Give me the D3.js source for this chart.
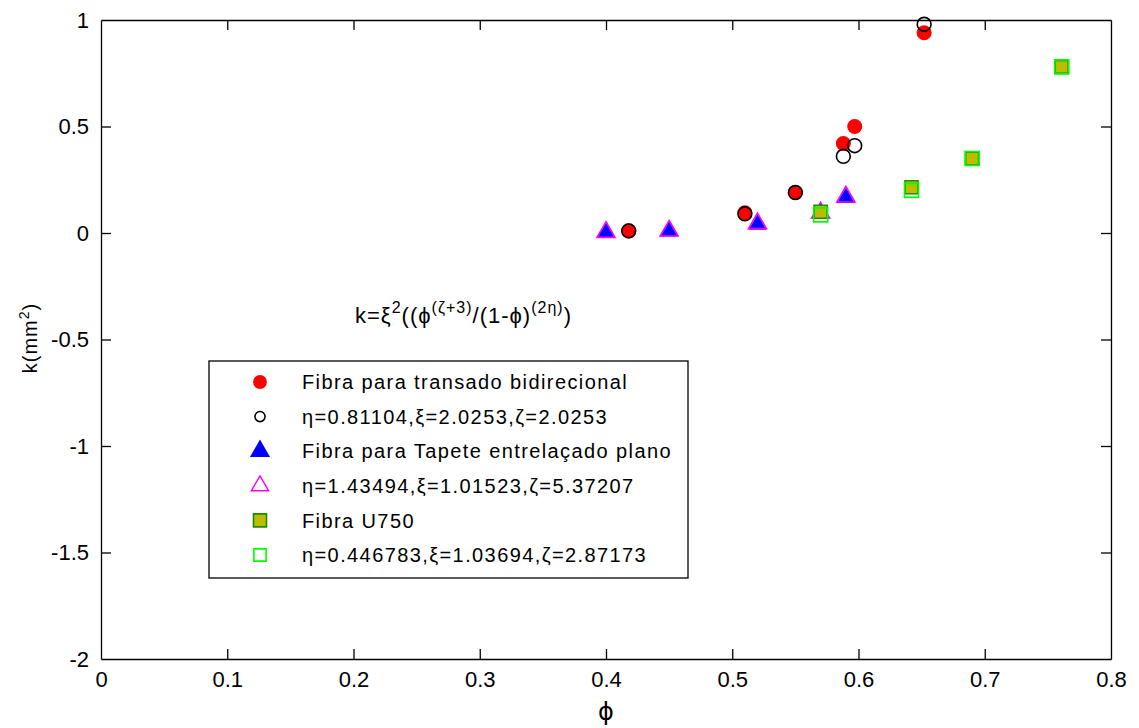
<!DOCTYPE html>
<html>
<head>
<meta charset="utf-8">
<script src="https://cdn.jsdelivr.net/npm/d3@7"></script>
<style>
  body { margin: 0; background: #fff; }
  .chart text { font-family: "Liberation Sans", Arial, sans-serif; fill: #000; }
  .axis path, .axis line { stroke: #000; stroke-width: 1.3; }
  .axis text { font-size: 22px; }
</style>
</head>
<body>
<div class="chart"></div>
<script>
// values
var phiTransado = [0.418, 0.51, 0.55, 0.588, 0.597, 0.652];
var kTransado = [0.01, 0.095, 0.19, 0.42, 0.50, 0.94];
var kTransadoFit = [0.01, 0.09, 0.19, 0.36, 0.41, 0.98];

var phiTapete = [0.40, 0.45, 0.52, 0.57, 0.59];
var kTapete = [0.004, 0.008, 0.04, 0.09, 0.165];
var kTapeteFit = [0.004, 0.01, 0.045, 0.095, 0.17];

var phiU750 = [0.57, 0.642, 0.69, 0.761];
var kU750 = [0.10, 0.215, 0.35, 0.78];
var kU750Fit = [0.085, 0.20, 0.35, 0.78];

var xTicks = [0, 0.1, 0.2, 0.3, 0.4, 0.5, 0.6, 0.7, 0.8];
var yTicks = [-2, -1.5, -1, -0.5, 0, 0.5, 1];

var legendLabels = [
    "Fibra para transado bidirecional",
    "\u03b7=0.81104,\u03be=2.0253,\u03b6=2.0253",
    "Fibra para Tapete entrela\u00e7ado plano",
    "\u03b7=1.43494,\u03be=1.01523,\u03b6=5.37207",
    "Fibra U750",
    "\u03b7=0.446783,\u03be=1.03694,\u03b6=2.87173"
];

var svgWidth = 1139;
var svgHeight = 728;
var margin = {top: 20, right: 28, bottom: 69, left: 101};
var width = svgWidth - margin.left - margin.right;
var height = svgHeight - margin.top - margin.bottom;

var svg = d3.select(".chart")
    .append("svg")
    .attr("width", svgWidth)
    .attr("height", svgHeight)
    .append("g")
    .attr("transform", "translate(" + margin.left + "," + margin.top + ")");

var xScale = d3.scaleLinear().domain([0, 0.8]).range([0, width]);
var yScale = d3.scaleLinear().domain([-2, 1]).range([height, 0]);

// axes, MATLAB style box with inward ticks
svg.append("g").attr("class", "axis")
    .attr("transform", "translate(0," + height + ")")
    .call(d3.axisBottom(xScale).tickValues(xTicks).tickSizeInner(-10).tickSizeOuter(0).tickPadding(12)
        .tickFormat(function(d) { return String(d); }));
svg.append("g").attr("class", "axis")
    .call(d3.axisTop(xScale).tickValues(xTicks).tickSizeInner(-10).tickSizeOuter(0).tickFormat(""));
svg.append("g").attr("class", "axis")
    .call(d3.axisLeft(yScale).tickValues(yTicks).tickSizeInner(-10).tickSizeOuter(0).tickPadding(12)
        .tickFormat(function(d) { return String(d); }));
svg.append("g").attr("class", "axis")
    .attr("transform", "translate(" + width + ",0)")
    .call(d3.axisRight(yScale).tickValues(yTicks).tickSizeInner(-10).tickSizeOuter(0).tickFormat(""));
svg.selectAll(".axis .tick:first-of-type line, .axis .tick:last-of-type line").attr("display", "none");

// series
var series = [
    {x: phiTransado, y: kTransado, type: d3.symbolCircle, size: 177, fill: "#ff0000", stroke: "none", sw: 0},
    {x: phiTransado, y: kTransadoFit, type: d3.symbolCircle, size: 150, fill: "none", stroke: "#000", sw: 1.6},
    {x: phiTapete, y: kTapete, type: d3.symbolTriangle, size: 140, fill: "#0000ff", stroke: "none", sw: 0},
    {x: phiTapete, y: kTapeteFit, type: d3.symbolTriangle, size: 140, fill: "none", stroke: "#ff00ff", sw: 1.6},
    {x: phiU750, y: kU750, type: d3.symbolSquare, size: 169, fill: "#bdbd00", stroke: "#1f8a00", sw: 1.6},
    {x: phiU750, y: kU750Fit, type: d3.symbolSquare, size: 196, fill: "none", stroke: "#00ff00", sw: 1.6}
];

series.forEach(function(s) {
    svg.append("g").selectAll("path")
        .data(s.x.map(function(d, i) { return {x: d, y: s.y[i]}; }))
        .enter()
        .append("path")
        .attr("d", d3.symbol().type(s.type).size(s.size))
        .attr("transform", function(d) {
            return "translate(" + xScale(d.x) + "," + yScale(d.y) + ")";
        })
        .attr("fill", s.fill)
        .attr("stroke", s.stroke)
        .attr("stroke-width", s.sw);
});

// axis labels
svg.append("text")
    .attr("transform", "translate(" + (37 - margin.left) + "," + (338 - margin.top) + ") rotate(-90)")
    .attr("text-anchor", "middle")
    .style("font-size", "20px")
    .style("letter-spacing", "1px")
    .html('k(mm<tspan dy="-8" font-size="14">2</tspan><tspan dy="8">)</tspan>');

svg.append("text")
    .attr("x", xScale(0.4))
    .attr("y", 720 - margin.top)
    .attr("text-anchor", "middle")
    .style("font-size", "24px")
    .style("font-family", "DejaVu Sans")
    .text("\u03d5");

// formula annotation
var ann = svg.append("text")
    .attr("x", 355 - margin.left)
    .attr("y", 323 - margin.top)
    .style("font-size", "22px")
    .style("letter-spacing", "1px");
ann.append("tspan").text("k=\u03be");
ann.append("tspan").attr("dy", -10).style("font-size", "16px").text("2");
ann.append("tspan").attr("dy", 10).text("((\u03d5");
ann.append("tspan").attr("dy", -10).style("font-size", "16px").text("(\u03b6+3)");
ann.append("tspan").attr("dy", 10).text("/(1-\u03d5)");
ann.append("tspan").attr("dy", -10).style("font-size", "16px").text("(2\u03b7)");
ann.append("tspan").attr("dy", 10).text(")");

// legend
var legend = svg.append("g")
    .attr("transform", "translate(" + (209 - margin.left) + "," + (361 - margin.top) + ")");
legend.append("rect")
    .attr("width", 479)
    .attr("height", 217)
    .attr("fill", "#fff")
    .attr("stroke", "#000")
    .attr("stroke-width", 1.3);

var legendMarks = [
    {type: d3.symbolCircle, size: 150, fill: "#ff0000", stroke: "none", sw: 0},
    {type: d3.symbolCircle, size: 80, fill: "none", stroke: "#000", sw: 1.6},
    {type: d3.symbolTriangle, size: 175, fill: "#0000ff", stroke: "none", sw: 0},
    {type: d3.symbolTriangle, size: 130, fill: "none", stroke: "#ff00ff", sw: 1.4},
    {type: d3.symbolSquare, size: 169, fill: "#bdbd00", stroke: "#1f8a00", sw: 1.6},
    {type: d3.symbolSquare, size: 150, fill: "none", stroke: "#00ff00", sw: 1.6}
];

var rows = legend.selectAll(".row")
    .data(legendLabels)
    .enter()
    .append("g")
    .attr("class", "row")
    .attr("transform", function(d, i) { return "translate(0," + (21 + i * 34.6) + ")"; });

rows.append("path")
    .attr("transform", "translate(51,0)")
    .attr("d", function(d, i) { return d3.symbol().type(legendMarks[i].type).size(legendMarks[i].size)(); })
    .attr("fill", function(d, i) { return legendMarks[i].fill; })
    .attr("stroke", function(d, i) { return legendMarks[i].stroke; })
    .attr("stroke-width", function(d, i) { return legendMarks[i].sw; });

rows.append("text")
    .attr("x", 93)
    .attr("dy", "0.36em")
    .style("font-size", "20px")
    .style("letter-spacing", "1.4px")
    .text(function(d) { return d; });
</script>
</body>
</html>
